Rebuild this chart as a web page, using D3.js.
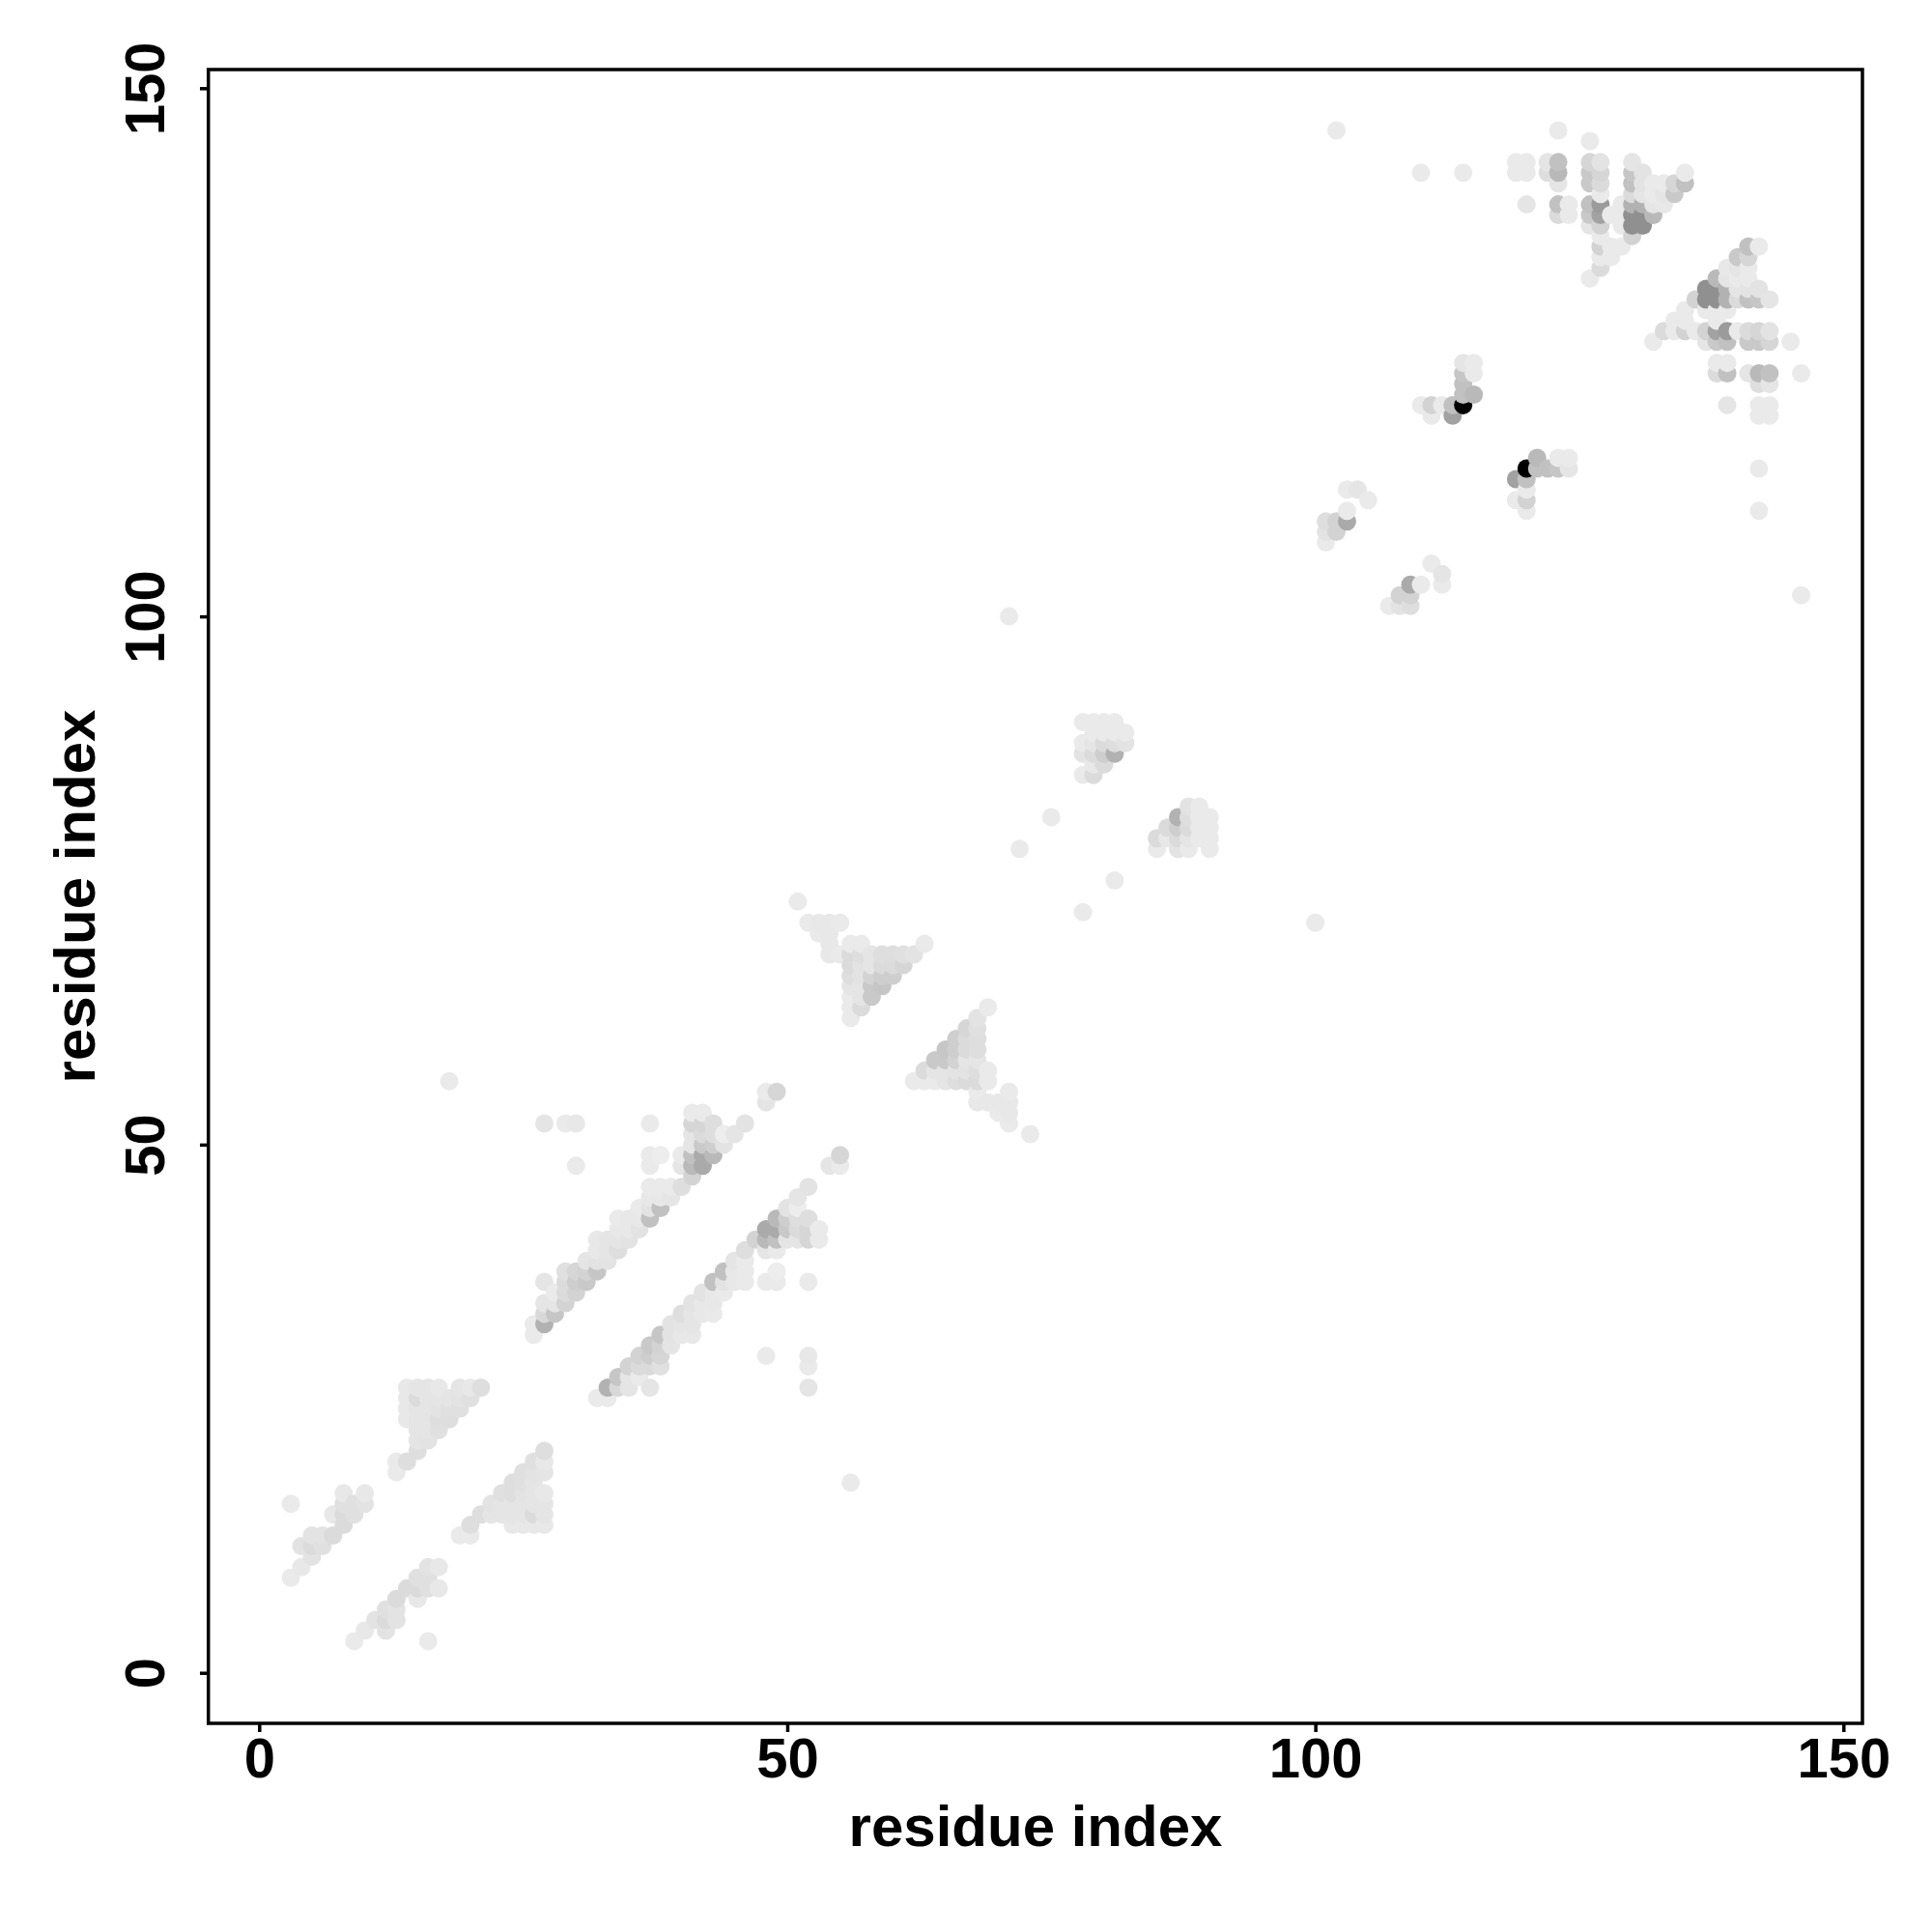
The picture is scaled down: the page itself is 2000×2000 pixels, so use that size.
<!DOCTYPE html>
<html><head><meta charset="utf-8">
<script src="https://cdn.jsdelivr.net/npm/d3@7"></script>
<style>html,body{margin:0;background:#fff}svg{display:block}text{font-family:"Liberation Sans",Arial,sans-serif;font-weight:700;fill:#000}</style>
</head><body><svg id="c" width="2000" height="2000"></svg>
<script>
// [residue i, residue j, contact strength in %]; the map is symmetric, i < j listed
const clusterA=[[3,9,9],[3,16,9],[4,10,10],[4,12,12],[5,11,12],[5,12,15],[5,13,12],[6,12,13],[6,13,12],[7,13,15],[7,15,10],[8,14,15],[8,15,15],[8,16,13],[8,17,10],[9,15,13],[9,16,13],[10,16,12],[10,17,10]];
const clusterB=[[13,19,9],[13,20,9],[14,20,14],[14,24,10],[14,25,10],[14,26,10],[14,27,10],[15,21,14],[15,22,11],[15,23,11],[15,24,11],[15,25,11],[15,26,15],[15,27,11],[16,22,12],[16,23,11],[16,24,11],[16,25,11],[16,26,11],[16,27,11],[17,23,13],[17,24,14],[17,25,12],[17,26,11],[17,27,10],[18,24,14],[18,25,13],[18,26,11],[19,25,13],[19,26,12],[19,27,11],[20,26,13],[20,27,10],[21,27,14]];
const clusterC=[[26,32,9],[26,33,9],[27,33,31],[27,34,16],[27,35,11],[27,37,11],[27,52,11],[28,34,23],[28,35,11],[28,36,9],[29,35,18],[29,36,15],[29,37,15],[29,38,13],[29,52,9],[30,36,18],[30,37,20],[30,38,17],[30,48,9],[30,52,10],[31,37,22],[31,38,18],[31,39,11],[32,38,23],[32,39,12],[32,40,10],[32,41,10],[33,39,12],[33,40,11],[33,41,11],[34,40,14],[34,41,11],[34,42,10],[34,43,9],[35,41,12],[35,42,10],[35,43,10],[36,42,12],[36,43,10],[36,44,9],[37,43,25],[37,44,12],[37,45,10],[37,46,9],[37,48,9],[37,49,9],[37,52,9],[38,44,25],[38,45,10],[38,46,9],[38,49,8],[39,45,11],[39,46,9],[40,46,14],[40,48,11],[40,49,9],[41,47,18],[41,48,28],[41,49,25],[41,50,11],[41,51,11],[41,52,17],[41,53,9],[42,48,34],[42,49,34],[42,50,22],[42,51,15],[42,52,17],[42,53,9],[43,49,28],[43,50,20],[43,51,14],[43,52,14],[44,50,12],[44,51,8],[45,51,11],[46,52,12],[48,54,11],[48,55,9],[49,55,17],[18,56,9]];
const clusterD=[[51,73,9],[52,71,9],[53,70,9],[53,71,10],[54,68,10],[54,69,10],[54,70,10],[54,71,10],[55,68,9],[55,71,9],[56,62,9],[56,63,9],[56,64,9],[56,65,11],[56,66,14],[56,67,15],[56,68,15],[56,69,9],[57,63,15],[57,64,11],[57,65,11],[57,66,12],[57,67,12],[57,68,14],[57,69,9],[58,64,22],[58,65,22],[58,66,18],[58,67,11],[58,68,11],[59,65,23],[59,66,20],[59,67,15],[59,68,14],[60,66,20],[60,67,15],[60,68,14],[61,67,17],[61,68,13],[62,68,12],[63,69,9]];
const clusterE=[[71,100,9],[72,78,9],[75,81,9],[78,85,9],[78,87,12],[78,88,9],[78,90,9],[79,85,15],[79,86,10],[79,87,15],[79,88,11],[79,89,9],[79,90,9],[80,86,15],[80,87,20],[80,88,15],[80,89,9],[80,90,9],[81,87,31],[81,88,14],[81,89,9],[81,90,9],[82,88,12],[82,89,9]];
const clusterF=[[101,107,9],[101,108,12],[101,109,14],[102,108,18],[102,109,18],[103,109,34],[103,110,9],[103,112,9],[104,112,11],[105,111,9],[110,120,9],[111,119,9],[111,120,18],[112,120,9],[113,119,37],[113,120,25],[114,120,100],[114,121,25],[114,122,25],[114,123,23],[114,124,11],[115,121,28],[115,123,9],[115,124,9],[110,142,9],[114,142,9],[102,146,9]];
const clusterG=[[119,142,9],[119,143,9],[120,139,11],[120,142,9],[120,143,9],[122,142,14],[122,143,11],[123,138,15],[123,139,25],[123,141,11],[123,142,28],[123,143,25],[123,146,9],[124,138,9],[124,139,9],[126,132,9],[126,137,11],[126,138,22],[126,139,25],[126,141,22],[126,142,22],[126,143,17],[126,145,9],[127,133,15],[127,134,9],[127,135,18],[127,136,9],[127,137,18],[127,138,37],[127,139,40],[127,140,9],[127,141,15],[127,142,17],[127,143,12],[128,134,9],[128,135,9],[128,138,9],[129,135,9],[129,137,9],[129,138,9],[129,139,9],[130,136,18],[130,137,44],[130,138,44],[130,139,31],[130,140,15],[130,141,25],[130,142,23],[130,143,11],[131,137,44],[131,138,44],[131,139,31],[131,140,11],[131,141,12],[131,142,12],[132,138,28],[132,139,11],[132,140,9],[132,141,9],[133,139,10],[133,140,11],[133,141,9],[134,140,22],[134,141,17],[135,141,25],[135,142,9]];
const xTicks=[0,50,100,150], yTicks=[0,50,100,150];
const axisTitle="residue index";

const svg=d3.select("#c");
const x=d3.scaleLinear().domain([0,150]).range([268.3,1908.3]);
const y=d3.scaleLinear().domain([0,150]).range([1731.7,91.3]);
const shade=d3.scaleLinear().domain([1,100]).range(["#ffffff","#000000"]);
const pts=[clusterA,clusterB,clusterC,clusterD,clusterE,clusterF,clusterG].flat()
  .flatMap(([i,j,s])=>[{a:i,b:j,s},{a:j,b:i,s}])
  .sort((p,q)=>d3.ascending(p.a,q.a)||d3.ascending(p.b,q.b));
svg.append("g").selectAll("circle").data(pts).join("circle")
  .attr("cx",d=>x(d.a)).attr("cy",d=>y(d.b)).attr("r",9.5).attr("fill",d=>shade(d.s));
svg.append("rect").attr("x",215.7).attr("y",72).attr("width",1712.3).attr("height",1712)
  .attr("fill","none").attr("stroke","#000").attr("stroke-width",3.5);
const xa=svg.append("g").attr("transform","translate(0,1784)")
  .call(d3.axisBottom(x).tickValues(xTicks).tickSize(9).tickPadding(6));
const ya=svg.append("g").attr("transform","translate(216,0)")
  .call(d3.axisLeft(y).tickValues(yTicks).tickSize(9).tickPadding(0));
[xa,ya].forEach(g=>{g.select(".domain").remove();g.selectAll("line").attr("stroke","#000").attr("stroke-width",3.5);});
xa.selectAll("text").attr("font-size",58).attr("dy",null).attr("y",55.5);
ya.selectAll("text").attr("font-size",58).attr("dy",null).attr("x",null)
  .attr("text-anchor","middle").attr("transform","translate(-46,0) rotate(-90)");
svg.append("text").attr("x",1072).attr("y",1911).attr("text-anchor","middle").attr("font-size",60).text(axisTitle);
svg.append("text").attr("transform","translate(98,928) rotate(-90)").attr("text-anchor","middle").attr("font-size",60).text(axisTitle);
</script></body></html>
